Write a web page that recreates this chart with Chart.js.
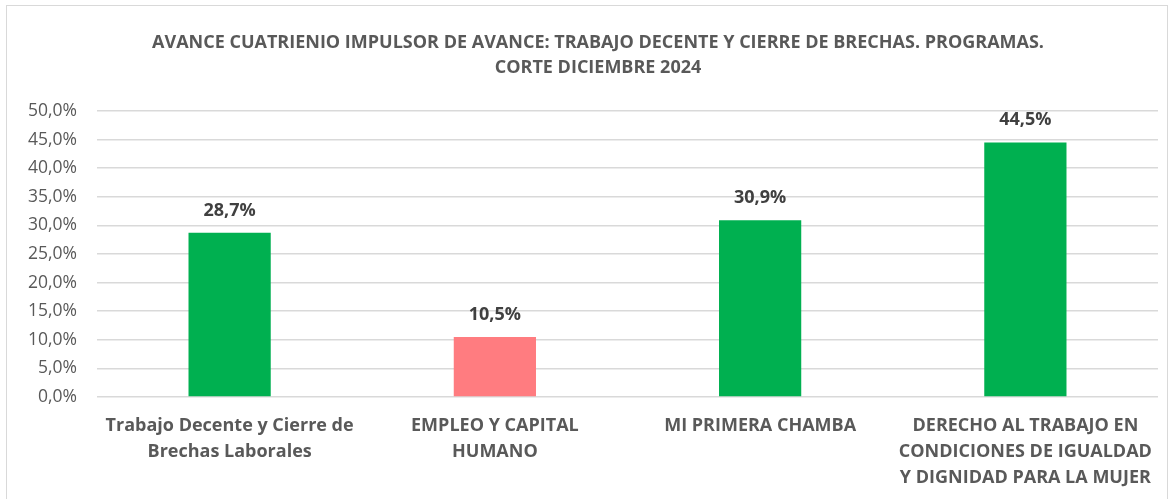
<!DOCTYPE html>
<html>
<head>
<meta charset="utf-8">
<script src="https://cdn.jsdelivr.net/npm/chart.js@4/dist/chart.umd.min.js"></script>
<style>
  html, body { margin: 0; padding: 0; background: #fff; }
  #wrap { position: relative; width: 1172px; height: 499px; }
  #frame { position: absolute; left: 6px; top: 5px; width: 1162px; height: 500px;
           border: 1px solid #d9d9d9; box-sizing: border-box; }
  canvas { position: absolute; left: 0; top: 0; }
</style>
</head>
<body>
<div id="wrap">
  <div id="frame"></div>
  <canvas id="myChart" width="1172" height="499"></canvas>
</div>
<script>
// Data
const categories = [
  ["Trabajo Decente y Cierre de", "Brechas Laborales"],
  ["EMPLEO Y CAPITAL", "HUMANO"],
  "MI PRIMERA CHAMBA",
  ["DERECHO AL TRABAJO EN", "CONDICIONES DE IGUALDAD", "Y DIGNIDAD PARA LA MUJER"]
];
const avance = [28.7, 10.5, 30.9, 44.5];
const barColors = ["#00B050", "#FF7C80", "#00B050", "#00B050"];
const titleLines = [
  "AVANCE CUATRIENIO IMPULSOR DE AVANCE: TRABAJO DECENTE Y CIERRE DE BRECHAS. PROGRAMAS.",
  "CORTE DICIEMBRE 2024"
];

const fontFamily = "'Open Sans', Lato, sans-serif";
const pct = v => v.toFixed(1).replace(".", ",") + "%";

// title centred on the whole frame, like the original
const chartTitle = {
  id: "chartTitle",
  afterDraw(chart) {
    const ctx = chart.ctx;
    ctx.save();
    ctx.font = "bold 18px " + fontFamily;
    ctx.fillStyle = "#595959";
    ctx.textAlign = "center";
    ctx.textBaseline = "middle";
    titleLines.forEach((t, i) => ctx.fillText(t, 598, 43 + i * 25));
    ctx.restore();
  }
};

// draw value labels above bars
const valueLabels = {
  id: "valueLabels",
  afterDatasetsDraw(chart) {
    const ctx = chart.ctx;
    const meta = chart.getDatasetMeta(0);
    ctx.save();
    ctx.font = "bold 18px " + fontFamily;
    ctx.fillStyle = "#404040";
    ctx.textAlign = "center";
    ctx.textBaseline = "alphabetic";
    meta.data.forEach((bar, i) => {
      ctx.fillText(pct(avance[i]), bar.x, bar.y - 17);
    });
    ctx.restore();
  }
};

const config = {
  type: "bar",
  data: {
    labels: categories,
    datasets: [{
      data: avance,
      backgroundColor: barColors,
      barPercentage: 0.31,
      categoryPercentage: 1
    }]
  },
  options: {
    responsive: false,
    animation: false,
    layout: { padding: { top: 111, right: 14, left: 0, bottom: 0 } },
    plugins: {
      legend: { display: false },
      tooltip: { enabled: false },
      title: { display: false }
    },
    scales: {
      y: {
        min: 0,
        max: 50,
        border: { display: false },
        grid: { color: "#d9d9d9", lineWidth: 1.5, drawTicks: false },
        ticks: {
          stepSize: 5,
          color: "#595959",
          padding: 20,
          font: { family: fontFamily, size: 17.5 },
          callback: v => pct(v)
        },
        afterFit(scale) { scale.width = 97; }
      },
      x: {
        border: { display: false },
        grid: { display: false },
        ticks: {
          color: "#595959",
          padding: 8,
          maxRotation: 0,
          autoSkip: false,
          font: { family: fontFamily, size: 18, weight: "bold", lineHeight: 1.44 }
        },
        afterFit(scale) { scale.height = 102; }
      }
    }
  },
  plugins: [valueLabels, chartTitle]
};

const ctx = document.getElementById("myChart").getContext("2d");
const myChart = new Chart(ctx, config);
</script>
</body>
</html>
